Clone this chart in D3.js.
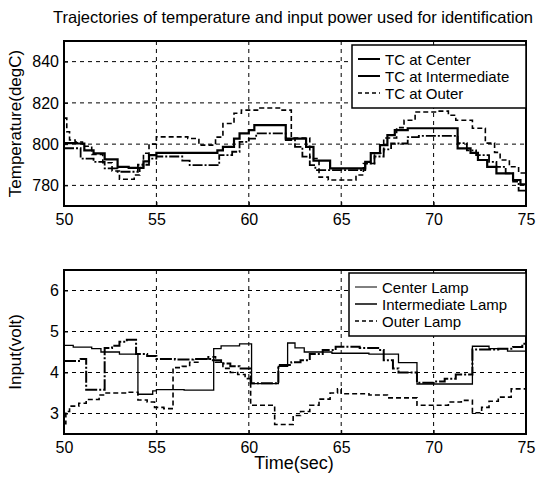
<!DOCTYPE html>
<html>
<head>
<meta charset="utf-8">
<script src="https://d3js.org/d3.v7.min.js"></script>
<style>
  body { margin: 0; background: #fff; }
  text { font-family: "Liberation Sans", Arial, sans-serif; fill: #000; }
</style>
</head>
<body>
<svg width="536" height="483"></svg>
<script>
// temperature trajectories [time, degC]
var tcCenter = [
  [50,800.5],[50.7,800.3],[51.1,797],[51.6,795.5],[52.2,792.6],[52.9,789],[53.5,788.5],[54.3,791.6],
  [54.6,794.7],[55,795.8],[58.3,797],[58.6,798.7],[59.2,802.7],[59.5,805.2],[60,806.8],[60.3,809.2],
  [62,802.7],[63.1,798.7],[63.5,792],[64.4,788.2],[66.3,791.4],[66.6,795.6],[67.1,799.5],[67.5,804.4],
  [67.9,806.8],[68.6,807.7],[71.3,797.9],[72,795.8],[72.4,792.3],[72.9,789],[73.4,785.8],[74.3,782.6],
  [74.7,780.5],[75,780.5]
];
var tcIntermediate = [
  [50,798],[50.9,793],[51.6,791.4],[52.2,788.2],[52.9,786.6],[54,790],[54.6,793],[55,794],[56.4,792],
  [56.8,789.8],[58.4,794.7],[59.1,796.3],[59.5,801.1],[60,802.7],[60.4,805.2],[62,802],[62.5,798.7],
  [62.9,793.9],[63.3,789.8],[63.6,787.4],[66.3,790.5],[66.8,794],[67.3,797.5],[67.7,800.3],[68.6,803.4],
  [69.2,804],[71.3,800.5],[71.8,797],[72.3,794.7],[73,791.4],[73.4,789],[73.9,785.8],[74.3,781.8],
  [74.6,777.5],[75,777.5]
];
var tcOuter = [
  [50,812.6],[50.15,806],[50.3,802],[50.6,801],[51,799],[51.5,795],[52.1,791],[52.6,787],[53,783],
  [53.8,785],[54.1,789],[54.3,795.6],[54.6,800],[55,803.5],[56.7,802.7],[57.3,799.5],[58.2,803.4],
  [58.6,810],[59.2,815],[59.6,816.5],[60.6,817.5],[61.8,816.5],[62.3,803],[63.3,793],[63.8,784],
  [64.3,782.6],[65.8,785],[66.2,790.6],[66.8,795.6],[67.3,803],[68,808],[68.4,811.6],[69,815.6],
  [70.2,816],[70.8,814],[71.2,811.6],[72.1,807.7],[72.8,800.5],[73.3,796],[73.6,792.3],[74.1,789],
  [74.6,786],[75,784]
];

// lamp inputs [time, volt]
var centerLamp = [
  [50,4.66],[50.5,4.62],[51.5,4.58],[52,4.5],[53,4.45],[54,3.47],[54.8,3.55],[55,3.58],[56.5,3.57],
  [58.1,4.58],[58.5,4.65],[59.5,4.7],[60.15,3.73],[61.6,4.15],[62.1,4.72],[62.5,4.6],[63,4.5],
  [64.5,4.47],[66.5,4.45],[68.1,4.24],[69.1,3.72],[72.1,4.64],[73,4.58],[74,4.52],[75,4.5]
];
var intermediateLamp = [
  [50,4.28],[50.9,4.33],[51.2,3.58],[52.2,4.6],[52.6,4.65],[53,4.75],[53.4,4.8],[53.9,4.45],
  [54.5,4.4],[55,4.33],[56,4.32],[57,4.33],[58,4.3],[58.5,4.22],[59,4.15],[59.5,4.1],[60.1,3.74],
  [61.6,4.18],[62.3,4.25],[62.8,4.3],[63.3,4.45],[64,4.55],[64.7,4.63],[66,4.6],[67,4.55],[67.3,4.3],
  [67.8,4.1],[68.1,4],[69.1,3.75],[70,3.78],[70.6,3.85],[71.2,3.95],[72.1,4.56],[73.5,4.58],
  [74.3,4.62],[74.8,4.7],[75,4.7]
];
var outerLamp = [
  [50,2.75],[50.1,3.05],[50.3,3.18],[50.8,3.25],[51.2,3.34],[51.9,3.45],[52.2,3.5],[53.4,3.52],
  [54,3.33],[54.5,3.28],[54.9,3.15],[55.4,3.12],[55.9,4.12],[56.4,4.15],[56.8,4.25],[57.3,4.33],
  [57.8,4.38],[58.2,4.25],[58.6,4.1],[59,4],[59.4,3.95],[59.8,3.85],[60.1,3.2],[61.4,2.73],[62.4,2.95],
  [62.8,3.05],[63.3,3.2],[63.8,3.35],[64.4,3.5],[64.8,3.6],[65,3.48],[66.5,3.45],[67.5,3.38],
  [69.1,3.2],[70.2,3.2],[70.8,3.28],[71.5,3.32],[72.1,3.02],[72.6,3.15],[73,3.3],[73.5,3.4],
  [74.2,3.6],[75,3.63]
];

var xTicks = [50, 55, 60, 65, 70, 75];
var tempTicks = [780, 800, 820, 840];
var voltTicks = [3, 4, 5, 6];

var svg = d3.select("svg");
var left = 64, right = 526;

var x = d3.scaleLinear().domain([50, 75]).range([left, right]);
var yT = d3.scaleLinear().domain([770, 850]).range([206, 41]);
var yV = d3.scaleLinear().domain([2.5, 6.5]).range([434, 270]);

svg.append("text")
  .attr("x", 293).attr("y", 23)
  .attr("text-anchor", "middle")
  .style("font-size", "16.5px")
  .text("Trajectories of temperature and input power used for identification");

function panel(y, yTicks, series, styles, yLabel, legendBox, names) {
  var top = y.range()[1], bottom = y.range()[0];
  var g = svg.append("g");

  // dashed grid
  g.append("g").selectAll("line").data(xTicks.slice(1, -1)).enter().append("line")
    .attr("x1", d => x(d)).attr("x2", d => x(d))
    .attr("y1", top).attr("y2", bottom)
    .attr("stroke", "#000").attr("stroke-dasharray", "4,4");
  g.append("g").selectAll("line").data(yTicks).enter().append("line")
    .attr("x1", left).attr("x2", right)
    .attr("y1", d => y(d)).attr("y2", d => y(d))
    .attr("stroke", "#000").attr("stroke-dasharray", "4,4");

  var line = d3.line().x(d => x(d[0])).y(d => y(d[1])).curve(d3.curveStepAfter);
  series.forEach(function (s, i) {
    g.append("path").datum(s)
      .attr("d", line)
      .attr("fill", "none").attr("stroke", "#000")
      .attr("stroke-width", styles[i].w)
      .attr("stroke-dasharray", styles[i].dash);
  });

  // axes
  g.append("g").attr("transform", "translate(0," + bottom + ")")
    .call(d3.axisBottom(x).tickValues(xTicks).tickSize(-4).tickPadding(8))
    .call(a => a.selectAll("text").style("font-size", "16px"));
  g.append("g").attr("transform", "translate(" + left + ",0)")
    .call(d3.axisLeft(y).tickValues(yTicks).tickFormat(d3.format("d")).tickSize(-4).tickPadding(5))
    .call(a => a.selectAll("text").style("font-size", "16px"));
  g.selectAll(".domain").remove();
  g.append("rect")
    .attr("x", left).attr("y", top)
    .attr("width", right - left).attr("height", bottom - top)
    .attr("fill", "none").attr("stroke", "#000").attr("stroke-width", 2);

  g.append("text")
    .attr("text-anchor", "middle")
    .attr("transform", "translate(21," + (top + bottom) / 2 + ")rotate(-90)")
    .style("font-size", "17px")
    .text(yLabel);

  // legend
  var lg = g.append("g");
  lg.append("rect")
    .attr("x", legendBox.x).attr("y", legendBox.y)
    .attr("width", right - legendBox.x).attr("height", legendBox.h)
    .attr("fill", "#fff").attr("stroke", "#000").attr("stroke-width", 1.5);
  names.forEach(function (n, i) {
    var ry = legendBox.y + 14 + i * 17;
    lg.append("line")
      .attr("x1", legendBox.x + 6).attr("x2", legendBox.x + 28)
      .attr("y1", ry).attr("y2", ry)
      .attr("stroke", "#000")
      .attr("stroke-width", styles[i].lw)
      .attr("stroke-dasharray", styles[i].ldash);
    lg.append("text")
      .attr("x", legendBox.x + 33).attr("y", ry + 5.5)
      .style("font-size", "15px")
      .text(n);
  });
}

panel(yT, tempTicks, [tcCenter, tcIntermediate, tcOuter],
  [{w: 2.2, dash: null, lw: 2, ldash: null},
   {w: 1.8, dash: "10,2,2,2", lw: 2, ldash: null},
   {w: 1.6, dash: "5,3", lw: 1.3, ldash: "4,3"}],
  "Temperature(degC)", {x: 352, y: 45, h: 63}, ["TC at Center", "TC at Intermediate", "TC at Outer"]);

panel(yV, voltTicks, [centerLamp, intermediateLamp, outerLamp],
  [{w: 1.3, dash: null, lw: 1, ldash: null},
   {w: 2, dash: "12,2,2,2", lw: 1.5, ldash: null},
   {w: 1.6, dash: "5,3", lw: 1.3, ldash: "4,3"}],
  "Input(volt)", {x: 349, y: 273, h: 63}, ["Center Lamp", "Intermediate Lamp", "Outer Lamp"]);

svg.append("text")
  .attr("x", 294).attr("y", 469)
  .attr("text-anchor", "middle")
  .style("font-size", "18px")
  .text("Time(sec)");
</script>
</body>
</html>
